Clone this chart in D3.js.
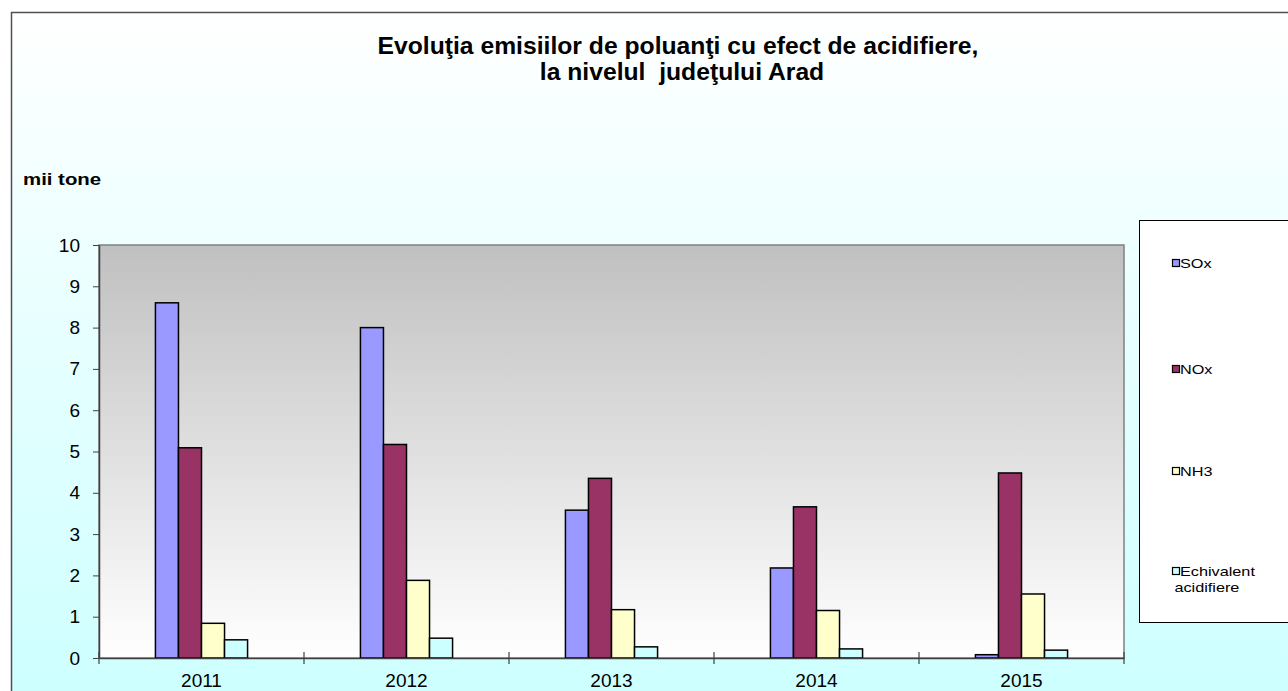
<!DOCTYPE html>
<html>
<head>
<meta charset="utf-8">
<script src="https://cdn.jsdelivr.net/npm/d3@7"></script>
<style>
  body { margin: 0; background: #fff; }
  svg { display: block; font-family: Arial, "Liberation Sans", sans-serif; }
</style>
</head>
<body>
<svg id="chart" width="1288" height="691"></svg>
<script>
var years = ["2011", "2012", "2013", "2014", "2015"];
var seriesNames = ["SOx", "NOx", "NH3", "Echivalent acidifiere"];
var sox = [8.6, 8.0, 3.58, 2.18, 0.08];
var nox = [5.09, 5.17, 4.35, 3.66, 4.48];
var nh3 = [0.84, 1.88, 1.17, 1.15, 1.55];
var echivalent = [0.44, 0.48, 0.27, 0.22, 0.19];
var yTicks = [0, 1, 2, 3, 4, 5, 6, 7, 8, 9, 10];
var colors = ["#9999FF", "#993366", "#FFFFCC", "#CCFFFF"];

var allSeries = [sox, nox, nh3, echivalent];

var svg = d3.select("#chart");
var defs = svg.append("defs");

//outer background: white to light cyan
var bgGrad = defs.append("linearGradient")
  .attr("id", "bgGrad")
  .attr("x1", 0).attr("y1", 0).attr("x2", 0).attr("y2", 1);
bgGrad.append("stop").attr("offset", "0%").attr("stop-color", "#FFFFFF");
bgGrad.append("stop").attr("offset", "100%").attr("stop-color", "#CCFFFF");

//plot area: gray to white
var plotGrad = defs.append("linearGradient")
  .attr("id", "plotGrad")
  .attr("x1", 0).attr("y1", 0).attr("x2", 0).attr("y2", 1);
plotGrad.append("stop").attr("offset", "0%").attr("stop-color", "#C0C0C0");
plotGrad.append("stop").attr("offset", "100%").attr("stop-color", "#FFFFFF");

svg.append("rect")
  .attr("x", 11.5).attr("y", 12.5)
  .attr("width", 1300).attr("height", 700)
  .attr("fill", "url(#bgGrad)")
  .attr("stroke", "#505050")
  .attr("stroke-width", 1.5);

var plot = { left: 99, right: 1124, top: 245, bottom: 658 };

var x = d3.scaleBand()
  .domain(years)
  .range([plot.left, plot.right]);

var xInner = d3.scaleBand()
  .domain(seriesNames)
  .range([0, x.bandwidth()])
  .paddingOuter(2.45);

var y = d3.scaleLinear()
  .domain([0, 10])
  .range([plot.bottom, plot.top]);

svg.append("rect")
  .attr("x", plot.left).attr("y", plot.top)
  .attr("width", plot.right - plot.left)
  .attr("height", plot.bottom - plot.top)
  .attr("fill", "url(#plotGrad)")
  .attr("stroke", "#808080")
  .attr("stroke-width", 1.5);

//bars
var groups = svg.append("g")
  .selectAll("g")
  .data(years)
  .enter()
  .append("g")
  .attr("transform", function (d) {
    return "translate(" + x(d) + ",0)";
  });

groups.selectAll("rect")
  .data(function (d, i) {
    return seriesNames.map(function (s, j) {
      return { name: s, value: allSeries[j][i], color: colors[j] };
    });
  })
  .enter()
  .append("rect")
  .attr("x", function (d) { return xInner(d.name); })
  .attr("y", function (d) { return y(d.value); })
  .attr("width", xInner.bandwidth())
  .attr("height", function (d) { return y(0) - y(d.value); })
  .attr("fill", function (d) { return d.color; })
  .attr("stroke", "#000")
  .attr("stroke-width", 1.5);

//y axis
var yAxis = svg.append("g")
  .attr("transform", "translate(" + plot.left + ",0)")
  .call(d3.axisLeft(y).tickValues(yTicks).tickSizeInner(6).tickSizeOuter(0).tickPadding(13));
yAxis.select(".domain").attr("stroke", "#404040").attr("stroke-width", 1.5);
yAxis.selectAll(".tick line").attr("stroke", "#404040");
yAxis.selectAll("text")
  .style("font-size", "19px")
  .style("font-family", "Arial, 'Liberation Sans', sans-serif")
  .attr("fill", "#000");

//x axis
var xAxis = svg.append("g")
  .attr("transform", "translate(0," + plot.bottom + ")")
  .call(d3.axisBottom(x).tickSize(0).tickPadding(16));
xAxis.select(".domain").attr("stroke", "#404040").attr("stroke-width", 1.5);
xAxis.selectAll("text")
  .style("font-size", "19px")
  .style("font-family", "Arial, 'Liberation Sans', sans-serif")
  .attr("fill", "#000");

//category separators crossing the axis
var sepPos = years.map(function (d) { return x(d); }).concat([plot.right]);
svg.append("g")
  .selectAll("line")
  .data(sepPos)
  .enter()
  .append("line")
  .attr("x1", function (d) { return d; })
  .attr("x2", function (d) { return d; })
  .attr("y1", plot.bottom - 6)
  .attr("y2", plot.bottom + 6)
  .attr("stroke", "#404040")
  .attr("stroke-width", 1.2);

//title
var title = svg.append("text")
  .attr("text-anchor", "middle")
  .attr("xml:space", "preserve")
  .style("font-size", "24.7px")
  .style("font-weight", "bold");
title.append("tspan").attr("x", 678).attr("y", 54).text("Evoluţia emisiilor de poluanţi cu efect de acidifiere,");
title.append("tspan").attr("x", 682).attr("y", 80).text("la nivelul  judeţului Arad");

svg.append("text")
  .attr("transform", "translate(23,185) scale(1.2,1)")
  .style("font-size", "17px")
  .style("font-weight", "bold")
  .text("mii tone");

//legend
var legend = svg.append("g");
legend.append("rect")
  .attr("x", 1139.5).attr("y", 220.5)
  .attr("width", 200).attr("height", 402)
  .attr("fill", "#fff")
  .attr("stroke", "#000")
  .attr("stroke-width", 1);

var legendY = [264, 370, 472, 572];
var rows = legend.selectAll("g.legend-row")
  .data(seriesNames)
  .enter()
  .append("g")
  .attr("class", "legend-row")
  .attr("transform", function (d, i) {
    return "translate(1172," + legendY[i] + ")";
  });

rows.append("rect")
  .attr("x", 0.5).attr("y", -4.5)
  .attr("width", 7).attr("height", 7)
  .attr("fill", function (d, i) { return colors[i]; })
  .attr("stroke", "#000")
  .attr("stroke-width", 1.2);

rows.append("text")
  .attr("transform", "translate(8,4) scale(1.25,1)")
  .style("font-size", "13px")
  .each(function (d) {
    var parts = d.split(" ");
    var t = d3.select(this);
    t.append("tspan").attr("x", 0).text(parts[0]);
    if (parts.length > 1) {
      //second line sits a little to the left, centred under the first
      t.append("tspan").attr("x", -4.5).attr("dy", 16).text(parts.slice(1).join(" "));
    }
  });
</script>
</body>
</html>
